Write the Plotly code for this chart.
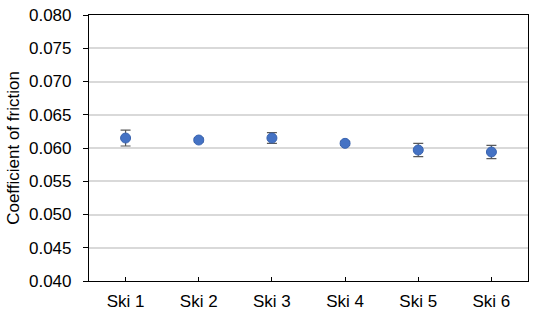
import plotly.graph_objects as go

categories = ["Ski 1", "Ski 2", "Ski 3", "Ski 4", "Ski 5", "Ski 6"]
friction = [0.0615, 0.0612, 0.0615, 0.0607, 0.0597, 0.0594]
friction_err = [0.0012, 0.0003, 0.0008, 0.0003, 0.0010, 0.0010]
y_ticks = [0.040, 0.045, 0.050, 0.055, 0.060, 0.065, 0.070, 0.075, 0.080]

fig = go.Figure()
fig.add_trace(go.Scatter(
    x=categories, y=friction, mode="markers",
    marker=dict(size=10, color="#4472C4", line=dict(color="#3a64b0", width=1)),
    error_y=dict(type="data", array=friction_err, visible=True,
                 color="#595959", thickness=1.2, width=5),
))

fig.update_layout(
    width=536, height=314,
    margin=dict(l=89, r=8, t=15, b=33),
    paper_bgcolor="white", plot_bgcolor="white",
    showlegend=False,
    font=dict(family="Liberation Sans, Arial, sans-serif", color="black", size=17),
)
fig.update_xaxes(
    type="category", range=[-0.5, 5.5], automargin=False,
    showline=True, linecolor="black", linewidth=1.2, mirror=True,
    ticks="inside", ticklen=4, tickcolor="black",
    showgrid=False, tickfont=dict(size=17), ticklabelstandoff=4,
)
fig.update_yaxes(
    range=[0.040, 0.080], tickvals=y_ticks, automargin=False,
    ticktext=[f"{v:.3f}" for v in y_ticks],
    showline=True, linecolor="black", linewidth=1.2, mirror=True,
    ticks="outside", ticklen=5, tickcolor="black",
    showgrid=True, gridcolor="#d9d9d9", gridwidth=1.5,
    zeroline=False, tickfont=dict(size=17), ticklabelstandoff=8,
    title=dict(text="Coefficient of friction", font=dict(size=17), standoff=5),
)

# remove the browser's default 8px body margin so the figure fills the window
fig.write_html("out.html", config={"displayModeBar": False},
               post_script="document.body.style.margin='0px';")
